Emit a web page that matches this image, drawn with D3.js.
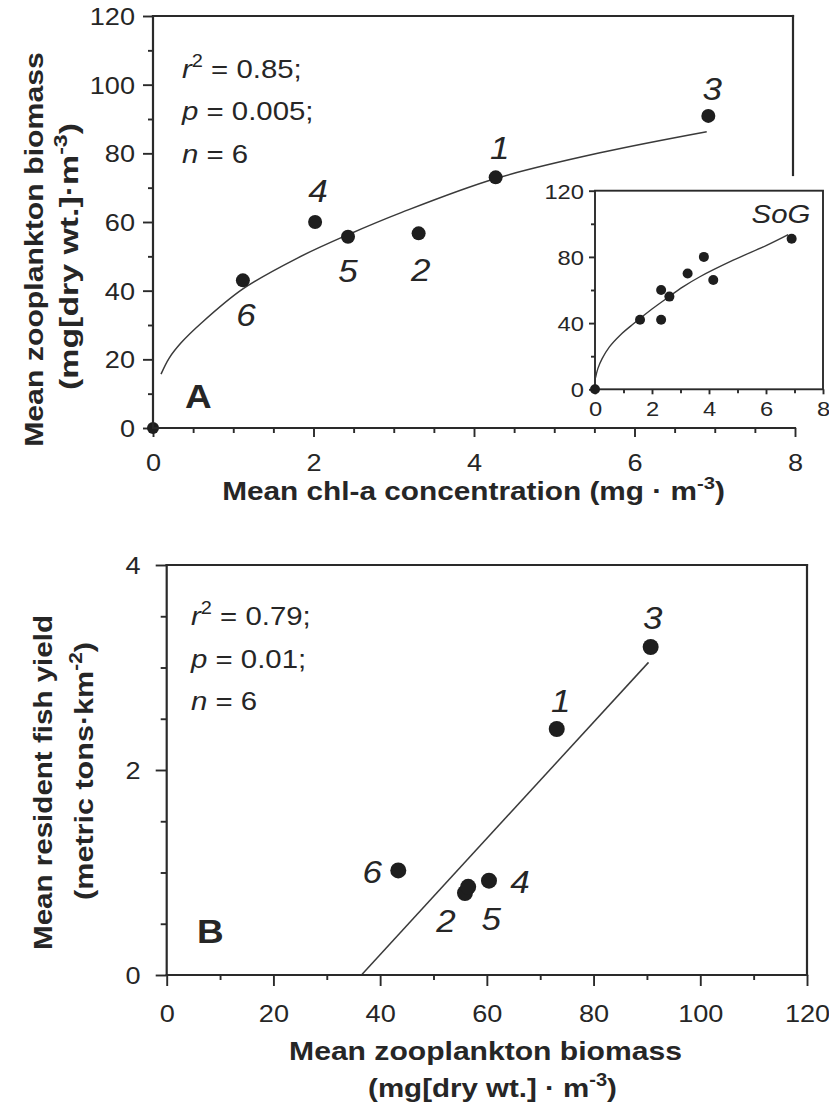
<!DOCTYPE html>
<html>
<head>
<meta charset="UTF-8">
<script src="https://cdn.jsdelivr.net/npm/d3@7"></script>
<style>
  body { margin: 0; background: #fff; }
  svg text { font-family: "Liberation Sans", Arial, Helvetica, sans-serif; fill: #262626; }
</style>
</head>
<body>
<svg id="chart"></svg>
<script>
var width = 829, height = 1108;
var SX = 1.13; // the scanned figure is a bit wider than it is tall

// ---------------- data (sites 1..6)
var sites = ["1", "2", "3", "4", "5", "6"];

// panel A : chl-a vs zooplankton
var chlA  = [4.27, 3.31, 6.92, 2.02, 2.43, 1.12];
var zooA  = [73.0, 56.7, 90.9, 60.0, 55.7, 43.0];
var originA = [[0, 0]];
var fitA = [[0.1, 15.7], [0.2, 20.3], [0.35, 24.8], [0.6, 30.5], [1.12, 40.5], [1.8, 49.5],
            [2.43, 56.3], [3.1, 62.8], [4.26, 72.6], [5.6, 80.3], [6.9, 86.3]];
var statsA = ["0.85", "0.005", "6"];

// inset (SoG)
var chlInset = [0, 1.58, 2.32, 2.32, 2.61, 3.25, 3.82, 4.15, 6.9];
var zooInset = [0, 42, 60, 42, 56, 70, 80, 66, 91];
var fitInset = [[0.02, 7], [0.1, 12.5], [0.25, 18.5], [0.5, 25.5], [0.9, 33], [1.35, 39.6],
                [2.0, 48.5], [2.52, 55], [3.1, 62], [3.68, 68], [4.85, 78], [6.02, 87], [6.78, 93.5]];

// panel B : zooplankton vs fish yield
var zooB  = [73.1, 55.9, 90.7, 60.4, 56.5, 43.4];
var fishB = [2.40, 0.80, 3.20, 0.92, 0.86, 1.02];
var fitB = [[36.5, 0], [90.3, 3.05]];
var statsB = ["0.79", "0.01", "6"];

// tick values
var ticksAx = [0, 2, 4, 6, 8], ticksAy = [0, 20, 40, 60, 80, 100, 120];
var ticksIx = [0, 2, 4, 6, 8], ticksIy = [0, 40, 80, 120];
var ticksBx = [0, 20, 40, 60, 80, 100, 120], ticksBy = [0, 2, 4];

// label offsets (px) around each dot, by site
var labA = {"1": [4, -18], "2": [2, 48], "3": [4, -16], "4": [3, -20], "5": [0, 45], "6": [3, 46]};
var labB = {"1": [4, -17], "2": [-19, 39], "3": [2, -18], "4": [31, 12], "5": [23, 43], "6": [-26, 13]};

var svg = d3.select("#chart").attr("width", width).attr("height", height);
svg.append("rect").attr("width", width).attr("height", height).attr("fill", "#fff");

// ---------------- scales
var xA = d3.scaleLinear().domain([0, 8]).range([153, 795]);
var yA = d3.scaleLinear().domain([0, 120]).range([428, 16]);
var xI = d3.scaleLinear().domain([0, 8]).range([595, 823]);
var yI = d3.scaleLinear().domain([0, 120]).range([389.3, 190.7]);
var xB = d3.scaleLinear().domain([0, 120]).range([166.7, 807]);
var yB = d3.scaleLinear().domain([0, 4]).range([975, 565]);

function range(a, b, s, skip) {
  return d3.range(a, b + 1e-9, s).filter(function (v) { return skip.indexOf(v) < 0; });
}

// text helper; parts = [{t, it, sup}]
function txt(g, x, y, parts, o) {
  o = o || {};
  var k = o.sx || SX;
  var t = g.append("text")
    .attr("text-anchor", o.anchor || "start")
    .style("font-size", (o.size || 24) + "px")
    .style("font-weight", o.bold ? "bold" : "normal");
  if (typeof parts === "string") parts = [{t: parts}];
  var up = false;
  parts.forEach(function (p) {
    var s = t.append("tspan").text(p.t);
    if (p.it) s.style("font-style", "italic");
    if (p.sup) { s.style("font-size", "0.68em").attr("dy", "-0.62em"); up = true; }
    else if (up) { s.attr("dy", "0.42em"); up = false; }
  });
  if (o.len) k = o.len / t.node().getComputedTextLength();
  t.attr("transform", "translate(" + x + "," + y + ")" + (o.rot ? " rotate(" + o.rot + ")" : "") +
    " scale(" + k + ",1)");
  return t;
}

function styleAxis(g, size, labelFn) {
  g.select(".domain").remove();
  g.selectAll(".tick line").attr("stroke", "#2a2a2a").attr("stroke-width", 1.9);
  g.selectAll(".tick text").style("font-size", size + "px").attr("fill", "#262626").each(labelFn);
}

function frameLine(x1, y1, x2, y2, w) {
  svg.append("line").attr("x1", x1).attr("y1", y1).attr("x2", x2).attr("y2", y2)
    .attr("stroke", "#2a2a2a").attr("stroke-width", w || 2.2).attr("stroke-linecap", "square");
}

// ================= PANEL A =================
var gA = svg.append("g");

gA.append("g").attr("transform", "translate(" + xA(0) + ",0)")
  .call(d3.axisLeft(yA).tickValues(range(10, 110, 20, [])).tickSize(5).tickFormat(""))
  .call(styleAxis, 24, function () {});
gA.append("g").attr("transform", "translate(" + xA(0) + ",0)")
  .call(d3.axisLeft(yA).tickValues(ticksAy).tickSize(10).tickFormat(d3.format("d")))
  .call(styleAxis, 24, function () {
    d3.select(this).attr("x", 0).attr("dy", "0.36em")
      .attr("transform", "translate(-18,0) scale(" + SX + ",1)").attr("text-anchor", "end");
  });
gA.append("g").attr("transform", "translate(0," + yA(0) + ")")
  .call(d3.axisBottom(xA).tickValues(range(0.5, 7.5, 0.5, ticksAx)).tickSize(5).tickFormat(""))
  .call(styleAxis, 24, function () {});
gA.append("g").attr("transform", "translate(0," + yA(0) + ")")
  .call(d3.axisBottom(xA).tickValues(ticksAx).tickSize(9).tickFormat(d3.format("d")))
  .call(styleAxis, 24, function () {
    d3.select(this).attr("y", 0).attr("dy", 0)
      .attr("transform", "translate(0,43) scale(" + SX + ",1)");
  });

frameLine(xA(0), yA(0), xA(8), yA(0));
frameLine(xA(0), yA(0), xA(0), yA(120));
frameLine(xA(0), yA(120), 793, yA(120));
frameLine(793, yA(120), 793, 175);

// fit curve
gA.append("path").datum(fitA)
  .attr("d", d3.line().x(function (d) { return xA(d[0]); }).y(function (d) { return yA(d[1]); })
    .curve(d3.curveCatmullRom))
  .attr("fill", "none").attr("stroke", "#3a3a3a").attr("stroke-width", 1.5);

// dots
gA.selectAll(".dotA").data(sites).enter().append("circle")
  .attr("cx", function (d, i) { return xA(chlA[i]); })
  .attr("cy", function (d, i) { return yA(zooA[i]); })
  .attr("r", 7).attr("fill", "#1e1e1e");
gA.selectAll(".origA").data(originA).enter().append("circle")
  .attr("cx", function (d) { return xA(d[0]); }).attr("cy", function (d) { return yA(d[1]); })
  .attr("r", 6).attr("fill", "#1e1e1e");
sites.forEach(function (s, i) {
  txt(gA, xA(chlA[i]) + labA[s][0], yA(zooA[i]) + labA[s][1], [{t: s, it: true}],
    {size: 31, anchor: "middle"});
});

// stats
txt(gA, 182, 78, [{t: "r", it: true}, {t: "2", sup: true}, {t: " = " + statsA[0] + ";"}], {size: 26});
txt(gA, 182, 120, [{t: "p", it: true}, {t: " = " + statsA[1] + ";"}], {size: 26});
txt(gA, 182, 163, [{t: "n", it: true}, {t: " = " + statsA[2]}], {size: 26});
txt(gA, 185, 408, "A", {size: 33, bold: true, sx: 1.12});

// axis titles
txt(gA, 43, 249.5, "Mean zooplankton biomass", {size: 26, bold: true, anchor: "middle", rot: -90, len: 395});
txt(gA, 78, 256.5, [{t: "(mg[dry wt.]·m"}, {t: "-3", sup: true}, {t: ")"}],
  {size: 26, bold: true, anchor: "middle", rot: -90, len: 267});
txt(gA, 473.5, 500, [{t: "Mean chl-a concentration (mg · m"}, {t: "-3", sup: true}, {t: ")"}],
  {size: 25, bold: true, anchor: "middle", len: 503});

// ---------------- inset
var gI = svg.append("g");
gI.append("rect").attr("x", xI(0)).attr("y", yI(120))
  .attr("width", xI(8) - xI(0)).attr("height", yI(0) - yI(120))
  .attr("fill", "#fff").attr("stroke", "#2a2a2a").attr("stroke-width", 1.9);
gI.append("g").attr("transform", "translate(" + xI(0) + ",0)")
  .call(d3.axisLeft(yI).tickValues([20, 60, 100]).tickSize(4).tickFormat(""))
  .call(styleAxis, 21, function () {});
gI.append("g").attr("transform", "translate(" + xI(0) + ",0)")
  .call(d3.axisLeft(yI).tickValues(ticksIy).tickSize(6).tickFormat(d3.format("d")))
  .call(styleAxis, 21, function () {
    d3.select(this).attr("x", 0).attr("dy", "0.36em")
      .attr("transform", "translate(-11,0) scale(" + SX + ",1)").attr("text-anchor", "end");
  });
gI.append("g").attr("transform", "translate(0," + yI(0) + ")")
  .call(d3.axisBottom(xI).tickValues([1, 3, 5, 7]).tickSize(4).tickFormat(""))
  .call(styleAxis, 21, function () {});
gI.append("g").attr("transform", "translate(0," + yI(0) + ")")
  .call(d3.axisBottom(xI).tickValues(ticksIx).tickSize(5).tickFormat(d3.format("d")))
  .call(styleAxis, 21, function () {
    d3.select(this).attr("y", 0).attr("dy", 0)
      .attr("transform", "translate(0,27) scale(" + SX + ",1)");
  });

gI.append("path").datum(fitInset)
  .attr("d", d3.line().x(function (d) { return xI(d[0]); }).y(function (d) { return yI(d[1]); })
    .curve(d3.curveCatmullRom))
  .attr("fill", "none").attr("stroke", "#3a3a3a").attr("stroke-width", 1.4);
gI.selectAll(".dotI").data(chlInset).enter().append("circle")
  .attr("cx", function (d) { return xI(d); })
  .attr("cy", function (d, i) { return yI(zooInset[i]); })
  .attr("r", 5).attr("fill", "#1e1e1e");
txt(gI, 781, 223, [{t: "SoG", it: true}], {size: 26, anchor: "middle"});

// ================= PANEL B =================
var gB = svg.append("g");
gB.append("g").attr("transform", "translate(" + xB(0) + ",0)")
  .call(d3.axisLeft(yB).tickValues(range(0.5, 3.5, 0.5, ticksBy)).tickSize(6).tickFormat(""))
  .call(styleAxis, 24, function () {});
gB.append("g").attr("transform", "translate(" + xB(0) + ",0)")
  .call(d3.axisLeft(yB).tickValues(ticksBy).tickSize(11).tickFormat(d3.format("d")))
  .call(styleAxis, 24, function () {
    d3.select(this).attr("x", 0).attr("dy", "0.36em")
      .attr("transform", "translate(-26,0) scale(" + SX + ",1)").attr("text-anchor", "end");
  });
gB.append("g").attr("transform", "translate(0," + yB(0) + ")")
  .call(d3.axisBottom(xB).tickValues(range(10, 110, 20, [])).tickSize(5).tickFormat(""))
  .call(styleAxis, 24, function () {});
gB.append("g").attr("transform", "translate(0," + yB(0) + ")")
  .call(d3.axisBottom(xB).tickValues(ticksBx).tickSize(11).tickFormat(d3.format("d")))
  .call(styleAxis, 24, function () {
    d3.select(this).attr("y", 0).attr("dy", 0)
      .attr("transform", "translate(0,47) scale(" + SX + ",1)");
  });

frameLine(xB(0), yB(0), xB(120), yB(0));
frameLine(xB(0), yB(0), xB(0), yB(4));
frameLine(xB(0), yB(4), xB(120), yB(4));
frameLine(xB(120), yB(4), xB(120), yB(0));

gB.append("path").datum(fitB)
  .attr("d", d3.line().x(function (d) { return xB(d[0]); }).y(function (d) { return yB(d[1]); }))
  .attr("fill", "none").attr("stroke", "#3a3a3a").attr("stroke-width", 1.5);

gB.selectAll(".dotB").data(sites).enter().append("circle")
  .attr("cx", function (d, i) { return xB(zooB[i]); })
  .attr("cy", function (d, i) { return yB(fishB[i]); })
  .attr("r", 8).attr("fill", "#1e1e1e");
sites.forEach(function (s, i) {
  txt(gB, xB(zooB[i]) + labB[s][0], yB(fishB[i]) + labB[s][1], [{t: s, it: true}],
    {size: 31, anchor: "middle"});
});

txt(gB, 191, 625, [{t: "r", it: true}, {t: "2", sup: true}, {t: " = " + statsB[0] + ";"}], {size: 26});
txt(gB, 191, 668, [{t: "p", it: true}, {t: " = " + statsB[1] + ";"}], {size: 26});
txt(gB, 191, 710, [{t: "n", it: true}, {t: " = " + statsB[2]}], {size: 26});
txt(gB, 197, 943, "B", {size: 33, bold: true, sx: 1.12});

txt(gB, 52, 782.5, "Mean resident fish yield", {size: 26, bold: true, anchor: "middle", rot: -90, len: 335});
txt(gB, 93, 771, [{t: "(metric tons·km"}, {t: "-2", sup: true}, {t: ")"}],
  {size: 26, bold: true, anchor: "middle", rot: -90, len: 258});
txt(gB, 485.5, 1060, "Mean zooplankton biomass", {size: 26, bold: true, anchor: "middle", len: 393});
txt(gB, 492.5, 1097, [{t: "(mg[dry wt.] · m"}, {t: "-3", sup: true}, {t: ")"}],
  {size: 26, bold: true, anchor: "middle", len: 249});
</script>
</body>
</html>
